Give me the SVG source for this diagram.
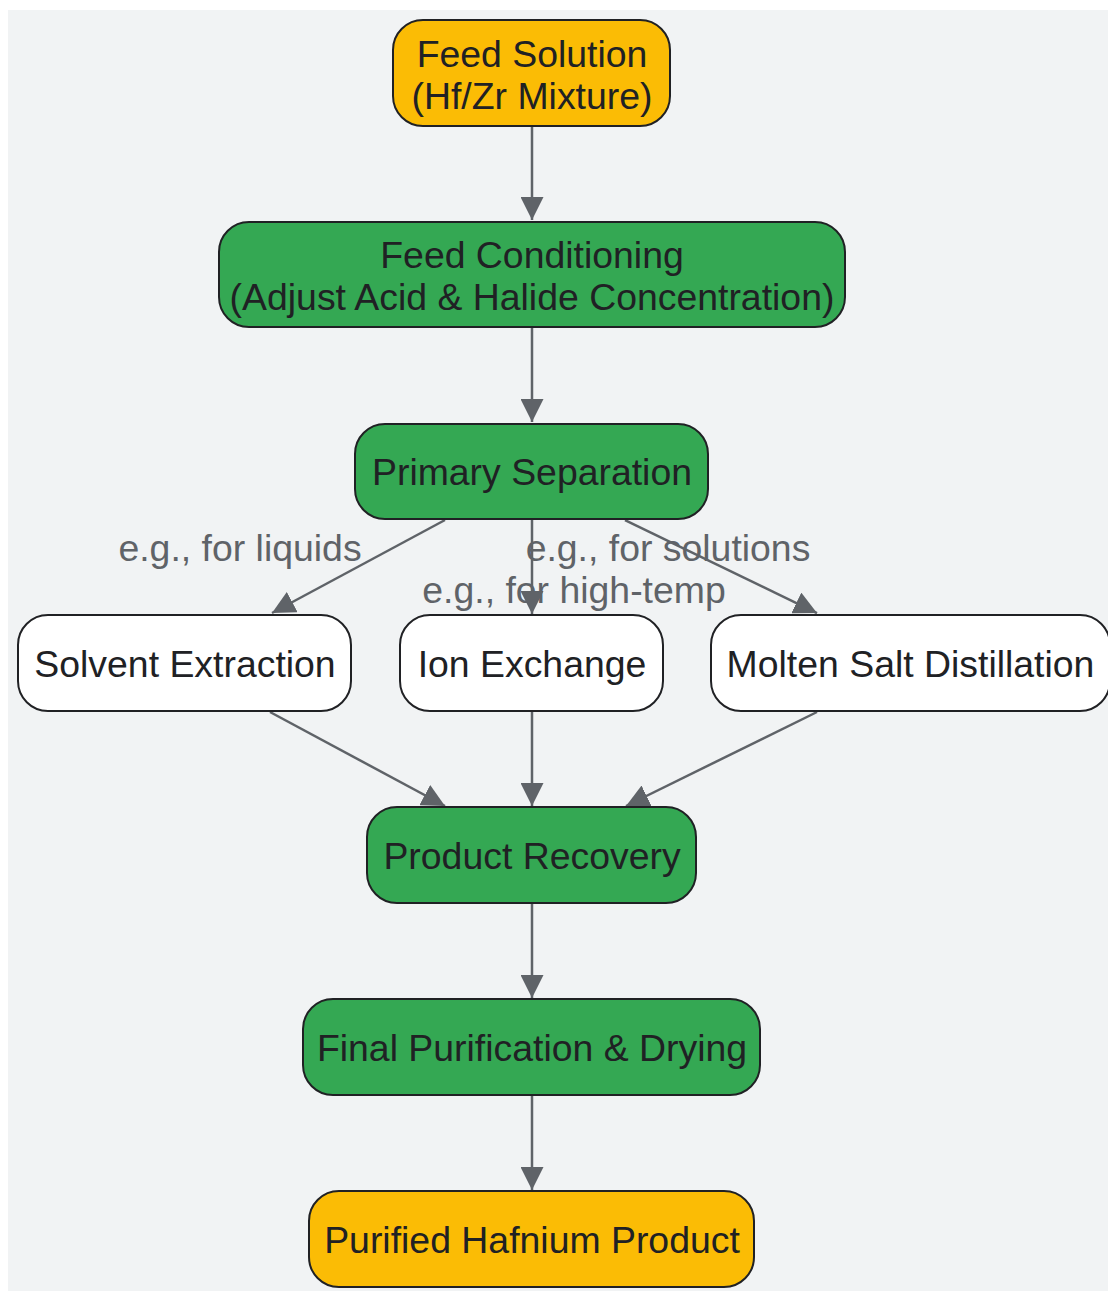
<svg xmlns="http://www.w3.org/2000/svg" width="1108" height="1292" viewBox="0 0 1108 1292">
<style>
.n rect{stroke:#202124;stroke-width:2}
.y rect{fill:#FBBC05}
.g rect{fill:#34A853}
.w rect{fill:#FFFFFF}
.n text{font-family:"Liberation Sans",Arial,sans-serif;font-size:37.4px;fill:#202124;text-anchor:middle}
.lbl{font-family:"Liberation Sans",Arial,sans-serif;font-size:37.4px;fill:#5f6368;text-anchor:middle}
.e{stroke:#5f6368;stroke-width:2.5;fill:none;marker-end:url(#ah)}
</style>
<defs>
<marker id="ah" viewBox="0 0 10 10" refX="10" refY="5" markerUnits="userSpaceOnUse" markerWidth="23" markerHeight="23" orient="auto">
<path d="M0,0 L10,5 L0,10 z" fill="#5f6368"/>
</marker>
</defs>
<rect x="8" y="10" width="1100" height="1281" fill="#F1F3F4"/>
<g id="labels">
<text class="lbl" x="240" y="561">e.g., for liquids</text>
<text class="lbl" x="668" y="561">e.g., for solutions</text>
<text class="lbl" x="574" y="603">e.g., for high-temp</text>
</g>
<g id="connectors">
<line class="e" x1="532" y1="126" x2="532" y2="220"/>
<line class="e" x1="532" y1="327" x2="532" y2="422"/>
<line class="e" x1="445" y1="520" x2="272" y2="613"/>
<line class="e" x1="532" y1="520" x2="532" y2="614"/>
<line class="e" x1="625" y1="520" x2="817" y2="613"/>
<line class="e" x1="270" y1="712" x2="445" y2="806"/>
<line class="e" x1="532" y1="712" x2="532" y2="806"/>
<line class="e" x1="817" y1="712" x2="626" y2="806"/>
<line class="e" x1="532" y1="903" x2="532" y2="998"/>
<line class="e" x1="532" y1="1095" x2="532" y2="1190"/>
</g>
<g id="feed" class="n y">
<rect x="393" y="20" width="277" height="106" rx="30"/>
<text x="532" y="67">Feed Solution</text>
<text x="532" y="109">(Hf/Zr Mixture)</text>
</g>
<g id="conditioning" class="n g">
<rect x="219" y="222" width="626" height="105" rx="30"/>
<text x="532" y="268">Feed Conditioning</text>
<text x="532" y="310">(Adjust Acid &amp; Halide Concentration)</text>
</g>
<g id="primary" class="n g">
<rect x="355" y="424" width="353" height="95" rx="30"/>
<text x="532" y="485">Primary Separation</text>
</g>
<g id="solvent" class="n w">
<rect x="18" y="615" width="333" height="96" rx="30"/>
<text x="185" y="677">Solvent Extraction</text>
</g>
<g id="ion" class="n w">
<rect x="400" y="615" width="263" height="96" rx="30"/>
<text x="532" y="677">Ion Exchange</text>
</g>
<g id="molten" class="n w">
<rect x="711" y="615" width="399" height="96" rx="30"/>
<text x="910.5" y="677">Molten Salt Distillation</text>
</g>
<g id="recovery" class="n g">
<rect x="367" y="807" width="329" height="96" rx="30"/>
<text x="532" y="869">Product Recovery</text>
</g>
<g id="final" class="n g">
<rect x="303" y="999" width="457" height="96" rx="30"/>
<text x="532" y="1061">Final Purification &amp; Drying</text>
</g>
<g id="product" class="n y">
<rect x="309" y="1191" width="445" height="96" rx="30"/>
<text x="532" y="1253">Purified Hafnium Product</text>
</g>
</svg>
